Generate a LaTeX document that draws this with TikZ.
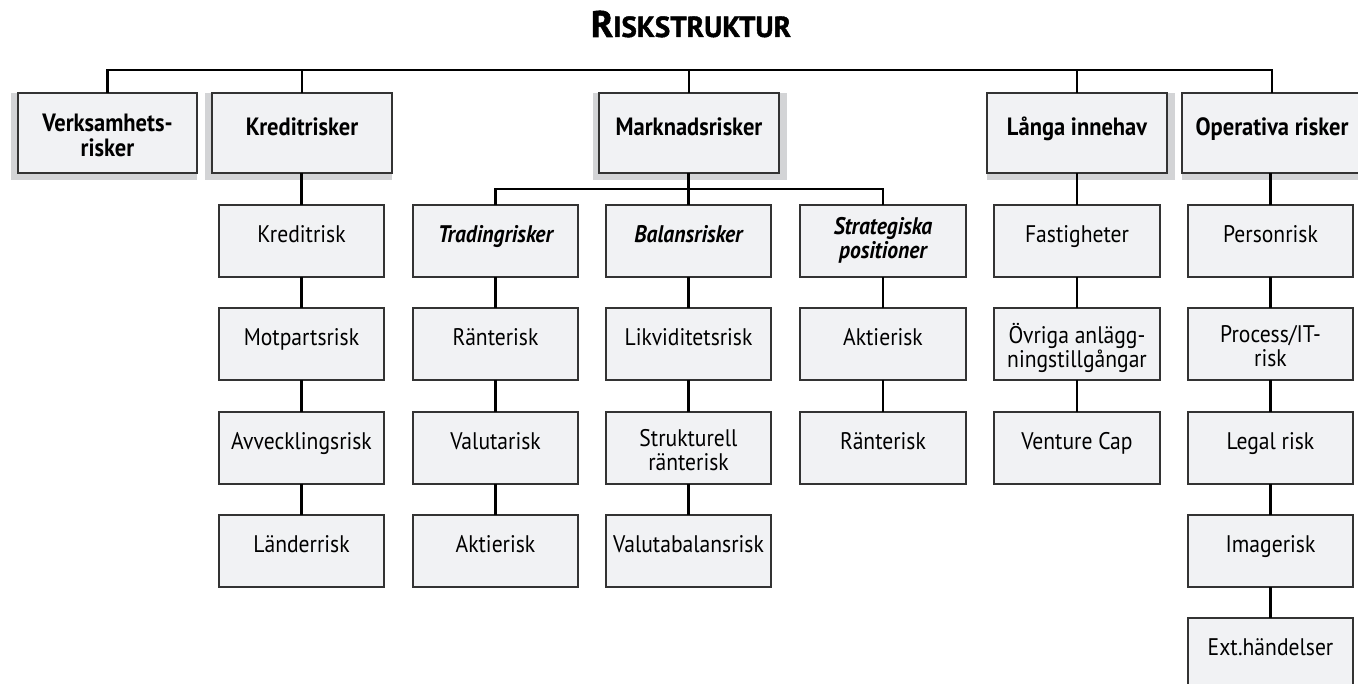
\documentclass[tikz,border=0pt]{standalone}
\usepackage{fontspec}
\setmainfont{PT Sans}[FakeStretch=0.9]
\newfontfamily\titlefont{PT Sans}[BoldFeatures={FakeBold=1.5}]
\definecolor{boxfill}{HTML}{F1F2F4}
\definecolor{shadowgray}{HTML}{D3D4D6}
\definecolor{boxline}{HTML}{333333}
\newcommand\rbox[8]{%
  \node[#7] (#1) at (#2,#3) {\parbox[t][#5pt][t]{#4pt}{\centering\vspace*{#8pt}\rule{0pt}{20pt}#6\par}};}
\tikzset{
  basebox/.style={draw=boxline, fill=boxfill, line width=1.3pt, anchor=north west, inner sep=0pt, outer sep=0pt},
  topbox/.style={basebox, font=\fontsize{25}{25}\selectfont\bfseries},
  subbox/.style={basebox, font=\fontsize{24}{24}\selectfont\bfseries\itshape},
  leafbox/.style={basebox, font=\fontsize{24}{24}\selectfont},
  shadowrect/.style={fill=shadowgray, draw=none},
  conn/.style={draw=black, line width=2.4pt}
}
\begin{document}
\begin{tikzpicture}[x=1pt,y=-1pt]
\useasboundingbox (0,0) rectangle (1358,684);
% title
\node[inner sep=0pt, anchor=base] (title) at (691,37) {\titlefont\bfseries{\fontsize{37}{37}\selectfont R}{\fontsize{29}{29}\selectfont ISKSTRUKTUR}};
% shadows
\fill[shadowrect] (11,93) rectangle (197,180);
\fill[shadowrect] (205,93) rectangle (392,180);
\fill[shadowrect] (593,93) rectangle (787,180);
\fill[shadowrect] (987,93) rectangle (1175,180);
\fill[shadowrect] (1182,93) rectangle (1370,180);
% top level
\rbox{verk}{18}{93}{179}{80}{Verksamhets-\\risker}{topbox}{19}
\rbox{kred}{212}{93}{180}{80}{Kreditrisker}{topbox}{23}
\rbox{mark}{599}{93}{180}{80}{Marknadsrisker}{topbox}{23}
\rbox{lang}{987}{93}{180}{80}{Långa innehav}{topbox}{23}
\rbox{oper}{1182}{93}{180}{80}{Operativa risker}{topbox}{23}
% market sub
\rbox{trad}{413}{205}{165}{72}{Tradingrisker}{subbox}{17.5}
\rbox{bal}{606}{205}{165}{72}{Balansrisker}{subbox}{17.5}
\rbox{strat}{800}{205}{166}{72}{Strategiska\\positioner}{subbox}{10}
% Kredit column
\rbox{k1}{219}{205}{165}{72}{Kreditrisk}{leafbox}{17.5}
\rbox{k2}{219}{308}{165}{72}{Motpartsrisk}{leafbox}{17.5}
\rbox{k3}{219}{412}{165}{72}{Avvecklingsrisk}{leafbox}{17.5}
\rbox{k4}{219}{515}{165}{72}{Länderrisk}{leafbox}{17.5}
% Trading column
\rbox{t1}{413}{308}{165}{72}{Ränterisk}{leafbox}{17.5}
\rbox{t2}{413}{412}{165}{72}{Valutarisk}{leafbox}{17.5}
\rbox{t3}{413}{515}{165}{72}{Aktierisk}{leafbox}{17.5}
% Balans column
\rbox{b1}{606}{308}{165}{72}{Likviditetsrisk}{leafbox}{17.5}
\rbox{b2}{606}{412}{165}{72}{Strukturell\\ränterisk}{leafbox}{15}
\rbox{b3}{606}{515}{165}{72}{Valutabalansrisk}{leafbox}{17.5}
% Strategiska column
\rbox{s1}{800}{308}{166}{72}{Aktierisk}{leafbox}{17.5}
\rbox{s2}{800}{412}{166}{72}{Ränterisk}{leafbox}{17.5}
% Långa column
\rbox{l1}{994}{205}{166}{72}{Fastigheter}{leafbox}{17.5}
\rbox{l2}{994}{308}{166}{72}{Övriga anlägg-\\ningstillgångar}{leafbox}{15}
\rbox{l3}{994}{412}{166}{72}{Venture Cap}{leafbox}{17.5}
% Operativa column
\rbox{o1}{1188}{205}{165}{72}{Personrisk}{leafbox}{17.5}
\rbox{o2}{1188}{308}{165}{72}{Process/IT-\\risk}{leafbox}{15}
\rbox{o3}{1188}{412}{165}{72}{Legal risk}{leafbox}{17.5}
\rbox{o4}{1188}{515}{165}{72}{Imagerisk}{leafbox}{17.5}
\rbox{o5}{1188}{618}{165}{72}{Ext.händelser}{leafbox}{17.5}
% connectors
\coordinate (bar) at (0,70);
\coordinate (mbar) at (0,189);
\draw[conn] (verk.north) -- (verk.north |- bar) -- (oper.north |- bar) -- (oper.north);
\foreach \n in {kred,mark,lang} \draw[conn] (\n.north) -- (\n.north |- bar);
\draw[conn] (trad.north) -- (trad.north |- mbar) -- (strat.north |- mbar) -- (strat.north);
\draw[conn] (bal.north) -- (bal.north |- mark.south);
\draw[conn] (k1.north) -- (k1.north |- kred.south);
\draw[conn] (l1.north) -- (l1.north |- lang.south);
\draw[conn] (o1.north) -- (o1.north |- oper.south);
\foreach \a/\b in {k1/k2,k2/k3,k3/k4,trad/t1,t1/t2,t2/t3,bal/b1,b1/b2,b2/b3,strat/s1,s1/s2,l1/l2,l2/l3,o1/o2,o2/o3,o3/o4,o4/o5}
  \draw[conn] (\a.south) -- (\b.north);
\end{tikzpicture}
\end{document}
